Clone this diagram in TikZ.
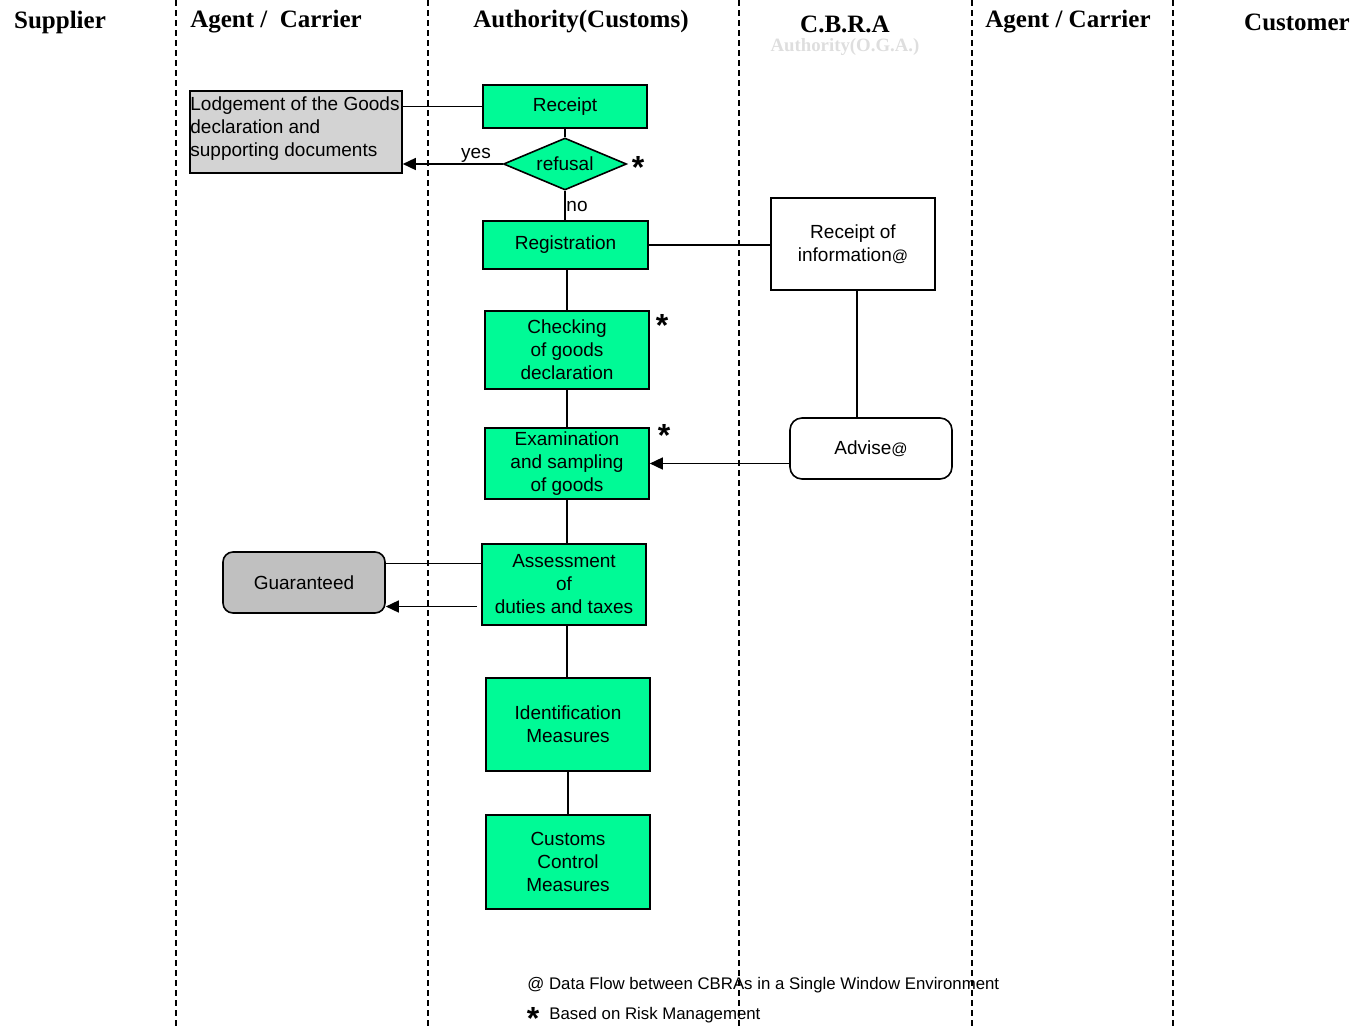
\documentclass[tikz,border=0pt]{standalone}
\usepackage{fontspec}
\setmainfont{Liberation Serif}
\newfontfamily\arialfam{Liberation Sans}
\usetikzlibrary{shapes.geometric,arrows.meta}
\definecolor{mint}{RGB}{0,250,150}
\definecolor{lgray}{RGB}{211,211,211}
\definecolor{dgray}{RGB}{192,192,192}
\newcommand\bxfont{\arialfam\fontsize{9.5}{11.5}\selectfont}
\newcommand\hdfont{\fontsize{12.5}{14}\selectfont\bfseries}
\newcommand\smat{{\fontsize{8}{8}\selectfont @}}
\tikzset{
  lane/.style={line width=0.75pt, dash pattern=on 3pt off 2pt},
  conn/.style={line width=0.75pt},
  arr/.style={line width=0.75pt, -{Triangle[length=6.5pt,width=6pt]}},
  gbox/.style={draw, line width=0.8pt, fill=mint, inner sep=0, align=center, font=\bxfont, minimum width=82pt},
  wbox/.style={draw, line width=0.8pt, fill=white, inner sep=0, align=center, font=\bxfont},
  hdr/.style={font=\hdfont, inner sep=0},
  lbl/.style={font=\bxfont, inner sep=0},
  starmark/.style={font=\arialfam\fontsize{16}{16}\selectfont\bfseries, inner sep=0},
}
\begin{document}
\begin{tikzpicture}[x=0.5pt,y=-0.5pt]
\useasboundingbox (0,0) rectangle (1360,1028);
% lanes
\foreach \xx/\nm in {176/l1,428/l2,739/l3,972/l4,1173/l5}{
  \coordinate (\nm t) at (\xx,0);
  \coordinate (\nm b) at (\xx,1028);
  \draw[lane] (\nm t) -- (\nm b);
}
% headers
\node[hdr] (h1) at (60,22) {Supplier};
\node[hdr] (h2) at (276,22) {Agent /\ \ Carrier};
\node[hdr] (h3) at (581,22) {Authority(Customs)};
\node[hdr] (h4) at (845,24) {C.B.R.A};
\node[font=\fontsize{9.4}{10}\selectfont\bfseries, inner sep=0, text=black!13] (h4b) at (845,47) {Authority(O.G.A.)};
\node[hdr] (h5) at (1068,22) {Agent / Carrier};
\node[hdr] (h6) at (1297,22) {Customer};

% left boxes
\node[draw, line width=0.8pt, fill=lgray, minimum width=106pt, minimum height=41pt, inner sep=0] (lodg) at (296,132) {};
\node[lbl, anchor=north west, align=left] (lodgt) at (190,96) {Lodgement of the Goods\\declaration and\\supporting documents};
\node[wbox, fill=dgray, rounded corners=5pt, minimum width=81pt, minimum height=30.5pt] (guar) at (304,582.5) {Guaranteed};

% main column
\node[gbox, minimum height=21.5pt] (receipt) at (565,106.5) {Receipt};
\node[draw, line width=0.8pt, fill=mint, diamond, aspect=2.4, inner sep=0, minimum width=61.5pt, minimum height=26pt, font=\bxfont] (refusal) at (565,164) {refusal};
\node[gbox, minimum width=82.5pt, minimum height=24pt] (reg) at (565.5,245) {Registration};
\node[gbox, minimum height=39pt] (check) at (567,350) {Checking\\of goods\\declaration};
\node[gbox, minimum height=35.5pt] (exam) at (567,463.5) {Examination\\and sampling\\of goods};
\node[gbox, minimum height=40.5pt] (assess) at (564,584.5) {Assessment\\of\\duties and taxes};
\node[gbox, minimum height=46.5pt] (ident) at (568,724.5) {Identification\\Measures};
\node[gbox, minimum height=47pt] (customs) at (568,862) {Customs\\Control\\Measures};

% CBRA column
\node[wbox, minimum width=82pt, minimum height=46pt] (rinfo) at (853,244) {Receipt of\\information\smat};
\node[wbox, rounded corners=6pt, minimum width=81pt, minimum height=30.5pt] (advise) at (871,448.5) {Advise\smat};

% stars
\node[starmark] (s1) at (638,167) {*};
\node[starmark] (s2) at (662,325) {*};
\node[starmark] (s3) at (664,435) {*};

% labels
\node[lbl] (yes) at (476,155) {yes};
\node[lbl] (no) at (577,206) {no};

% connectors
\draw[conn] (receipt.west) -- (receipt.west -| lodg.east);
\draw[conn] (receipt.south) -- (refusal.north);
\draw[arr] (refusal.west) -- (refusal.west -| lodg.east);
\draw[conn] (refusal.south) -- (refusal.south |- reg.north);
\draw[conn] (check.north |- reg.south) -- (check.north);
\draw[conn] (check.south) -- (exam.north);
\draw[conn] (exam.south) -- (exam.south |- assess.north);
\draw[conn] (exam.south |- assess.south) -- (exam.south |- ident.north);
\draw[conn] (ident.south) -- (customs.north);
\draw[conn] (reg.east) -- (reg.east -| rinfo.west);
\draw[conn] ([xshift=2pt]rinfo.south) -- ([xshift=2pt]rinfo.south |- advise.north);
\draw[arr] (advise.west |- exam.east) -- (exam.east);
\draw[conn] ([yshift=9.5pt]guar.east) -- ([yshift=9.5pt]guar.east -| assess.west);
\draw[arr] ([yshift=-12pt,xshift=-2pt]guar.east -| assess.west) -- ([yshift=-12pt]guar.east);

% footer
\node[font=\arialfam\fontsize{8.4}{10}\selectfont, inner sep=0, anchor=west] (f1) at (527,985) {@ Data Flow between CBRAs in a Single Window Environment};
\node[starmark] (f2s) at (533,1018) {*};
\node[font=\arialfam\fontsize{8.4}{10}\selectfont, inner sep=0, anchor=west] (f2) at (549,1015) {Based on Risk Management};
\end{tikzpicture}
\end{document}
